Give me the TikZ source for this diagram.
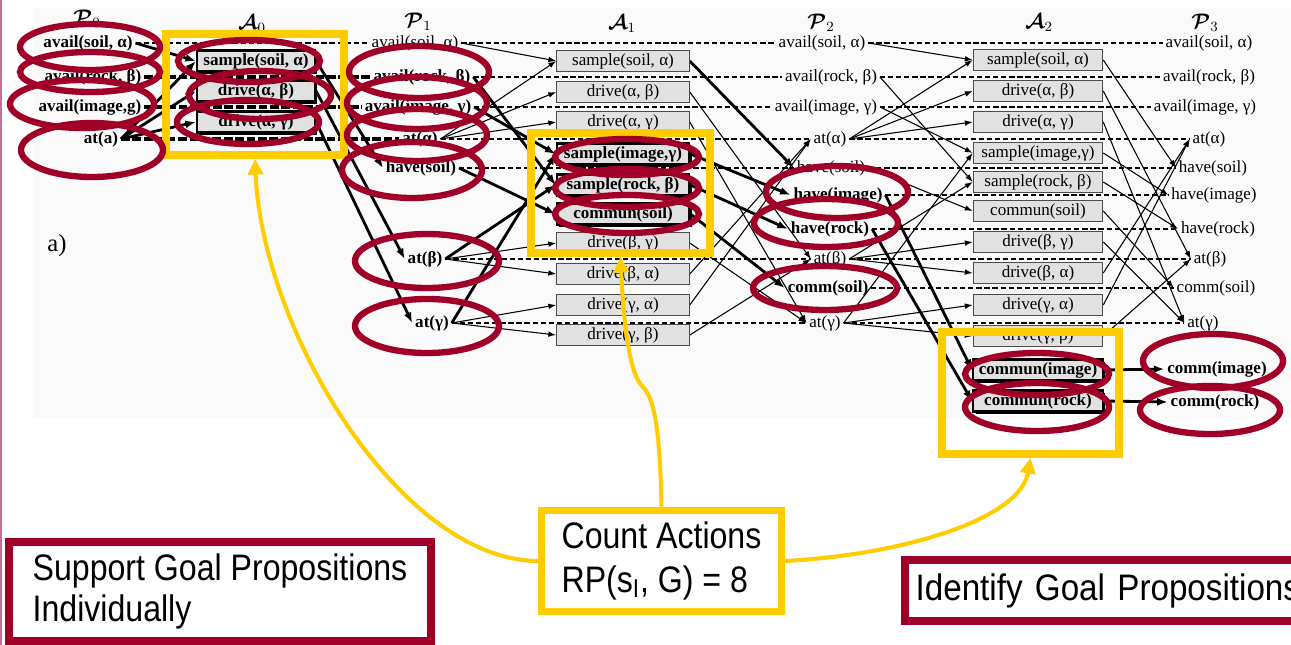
\documentclass[tikz,border=0pt]{standalone}
\usepackage{amsmath}
\usepackage{fontspec}
\setmainfont{Liberation Serif}
\newfontfamily\notefamily{Liberation Sans}[FakeStretch=0.87]
\newfontfamily\widenotefamily{Liberation Sans}[FakeStretch=0.9]
\usetikzlibrary{arrows.meta,shadows}
\definecolor{goalred}{RGB}{160,0,40}
\definecolor{markyellow}{RGB}{255,204,0}
\definecolor{boxgray}{RGB}{225,225,225}
\definecolor{sheet}{RGB}{250,250,250}
\definecolor{edgepink}{RGB}{200,110,150}
\newcommand\gsize{\fontsize{9.7}{11}\selectfont}
\newcommand\notesize{\notefamily\fontsize{21}{25}\selectfont}
\newcommand\widenotesize{\widenotefamily\fontsize{21}{25}\selectfont}
\pgfdeclarelayer{sheetlayer}
\pgfdeclarelayer{wirelayer}
\pgfsetlayers{sheetlayer,wirelayer,main}
\tikzset{
  prop/.style={font=\gsize, inner sep=1.5pt},
  bprop/.style={font=\gsize\bfseries, inner sep=1.5pt},
  levtitle/.style={font=\fontsize{12}{12}\selectfont, inner sep=0pt},
  act/.style={draw=black!70, fill=boxgray, line width=0.6pt, inner sep=0pt, minimum height=12pt, font=\gsize},
  bact/.style={act, draw=black, line width=1.4pt, font=\gsize\bfseries,
    drop shadow={shadow xshift=1.3pt, shadow yshift=-1.3pt, fill=black, opacity=1}},
  lev0/.style={minimum width=67pt},
  lev1/.style={minimum width=75.4pt},
  lev2/.style={minimum width=73.7pt},
  noop/.style={line width=0.6pt, dash pattern=on 3pt off 1.6pt},
  bnoop/.style={line width=1.9pt, dash pattern=on 5pt off 1.5pt},
  wire/.style={line width=0.6pt, -{Latex[length=4.5pt,width=3.2pt]}},
  bwire/.style={line width=1.6pt, -{Latex[length=6pt,width=4.5pt]}},
  ring/.style={draw=goalred, line width=3.6pt},
  hilite/.style={draw=markyellow, line width=4.5pt, inner sep=0pt},
  pointer/.style={draw=markyellow, line width=2.3pt, -{Triangle[length=9pt,width=8.5pt]}},
  notebox/.style={draw=goalred, line width=4.6pt, fill=white, font=\notesize, align=left},
  countbox/.style={draw=markyellow, line width=4.2pt, fill=white, font=\notesize, align=left},
}
\begin{document}
\begin{tikzpicture}[x=0.02cm,y=-0.02cm]
\useasboundingbox (0,0) rectangle (1291,645);
\clip (0,0) rectangle (1291,645);
\begin{pgfonlayer}{sheetlayer}
  \fill[white] (0,0) rectangle (1291,645);
  \fill[sheet] (33,8) rectangle (1291,418);
  \draw[edgepink, line width=1.2pt] (0.5,0) -- (0.5,645);
\end{pgfonlayer}

% level titles
\node[levtitle] (t0) at (87,19)   {$\boldsymbol{\mathcal P}_0$};
\node[levtitle] (t1) at (252,24)  {$\boldsymbol{\mathcal A}_0$};
\node[levtitle] (t2) at (418,22)  {$\boldsymbol{\mathcal P}_1$};
\node[levtitle] (t3) at (622,24)  {$\boldsymbol{\mathcal A}_1$};
\node[levtitle] (t4) at (821,23)  {$\boldsymbol{\mathcal P}_2$};
\node[levtitle] (t5) at (1039,23) {$\boldsymbol{\mathcal A}_2$};
\node[levtitle] (t6) at (1205,23) {$\boldsymbol{\mathcal P}_3$};
\node[font=\fontsize{14}{14}\selectfont] (lbl) at (57,246) {a)};

% proposition level 0
\node[bprop] (p0s) at (88,43)  {avail(soil, α)};
\node[bprop] (p0r) at (93,77)  {avail(rock, β)};
\node[bprop] (p0i) at (90,107) {avail(image,g)};
\node[bprop] (p0a) at (101,139) {at(a)};

% action level 0
\node[bact,lev0] (a0ss) at (256,61)  {sample(soil, α)};
\node[bact,lev0] (a0ab) at (256,91)  {drive(α, β)};
\node[bact,lev0] (a0ag) at (256,122) {drive(α, γ)};

% proposition level 1
\node[prop]  (p1s)  at (415,43)  {avail(soil, α)};
\node[bprop] (p1r)  at (422,77)  {avail(rock, β)};
\node[bprop] (p1i)  at (418,107) {avail(image, γ)};
\node[bprop] (p1a)  at (420,139) {at(α)};
\node[bprop] (p1hs) at (421,168) {have(soil)};
\node[bprop] (p1b)  at (425,259) {at(β)};
\node[bprop] (p1g)  at (432,323) {at(γ)};

% action level 1
\node[act,lev1]  (a1ss) at (623,61)  {sample(soil, α)};
\node[act,lev1]  (a1ab) at (623,92)  {drive(α, β)};
\node[act,lev1]  (a1ag) at (623,122) {drive(α, γ)};
\node[bact,lev1] (a1si) at (623,154) {sample(image,γ)};
\node[bact,lev1] (a1sr) at (623,185) {sample(rock, β)};
\node[bact,lev1] (a1cs) at (623,214) {commun(soil)};
\node[act,lev1]  (a1bg) at (623,243) {drive(β, γ)};
\node[act,lev1]  (a1ba) at (623,274) {drive(β, α)};
\node[act,lev1]  (a1ga) at (623,305) {drive(γ, α)};
\node[act,lev1]  (a1gb) at (623,335) {drive(γ, β)};

% proposition level 2
\node[prop]  (p2s)  at (822,43)  {avail(soil, α)};
\node[prop]  (p2r)  at (831,77)  {avail(rock, β)};
\node[prop]  (p2i)  at (826,107) {avail(image, γ)};
\node[prop]  (p2a)  at (830,139) {at(α)};
\node[prop]  (p2hs) at (831,168) {have(soil)};
\node[bprop] (p2hi) at (838,195) {have(image)};
\node[bprop] (p2hr) at (830,229) {have(rock)};
\node[prop]  (p2b)  at (830,259) {at(β)};
\node[bprop] (p2cs) at (828,288) {comm(soil)};
\node[prop]  (p2g)  at (825,323) {at(γ)};

% action level 2
\node[act,lev2]  (a2ss) at (1038,60)  {sample(soil, α)};
\node[act,lev2]  (a2ab) at (1038,91)  {drive(α, β)};
\node[act,lev2]  (a2ag) at (1038,122) {drive(α, γ)};
\node[act,lev2]  (a2si) at (1038,153) {sample(image,γ)};
\node[act,lev2]  (a2sr) at (1038,182) {sample(rock, β)};
\node[act,lev2]  (a2cs) at (1038,211) {commun(soil)};
\node[act,lev2]  (a2bg) at (1038,242) {drive(β, γ)};
\node[act,lev2]  (a2ba) at (1038,273) {drive(β, α)};
\node[act,lev2]  (a2ga) at (1038,305) {drive(γ, α)};
\node[act,lev2]  (a2gb) at (1038,336) {drive(γ, β)};
\node[bact,lev2] (a2ci) at (1038,370) {commun(image)};
\node[bact,lev2] (a2cr) at (1038,401) {commun(rock)};

% proposition level 3
\node[prop]  (p3s)  at (1209,43)  {avail(soil, α)};
\node[prop]  (p3r)  at (1209,77)  {avail(rock, β)};
\node[prop]  (p3i)  at (1205,107) {avail(image, γ)};
\node[prop]  (p3a)  at (1209,139) {at(α)};
\node[prop]  (p3hs) at (1213,168) {have(soil)};
\node[prop]  (p3hi) at (1214,195) {have(image)};
\node[prop]  (p3hr) at (1218,229) {have(rock)};
\node[prop]  (p3b)  at (1210,259) {at(β)};
\node[prop]  (p3cs) at (1216,288) {comm(soil)};
\node[prop]  (p3g)  at (1203,323) {at(γ)};
\node[bprop] (p3ci) at (1217,369) {comm(image)};
\node[bprop] (p3cr) at (1215,402) {comm(rock)};

\begin{pgfonlayer}{wirelayer}
  % persistence (no-op) links
  \foreach \u/\v in {p0s/p1s,
      p1s/p2s, p1r/p2r, p1i/p2i, p1a/p2a, p1hs/p2hs, p1b/p2b, p1g/p2g,
      p2s/p3s, p2r/p3r, p2i/p3i, p2a/p3a, p2hs/p3hs, p2hi/p3hi, p2hr/p3hr,
      p2b/p3b, p2cs/p3cs, p2g/p3g}
    \draw[noop] (\u.east) -- (\v.west);
  \foreach \u/\v in {p0r/p1r, p0i/p1i, p0a/p1a}
    \draw[bnoop] (\u.east) -- (\v.west);
  % preconditions and effects
  \foreach \u/\v in {p1s/a1ss, p1a/a1ss, p1a/a1ab, p1a/a1ag, p1b/a1bg, p1b/a1ba,
      p1g/a1ga, p1g/a1gb,
      a1ab/p2b, a1ag/p2g, a1bg/p2g, a1ba/p2a, a1ga/p2a, a1gb/p2b,
      p2s/a2ss, p2a/a2ss, p2a/a2ab, p2a/a2ag, p2i/a2si, p2g/a2si, p2r/a2sr,
      p2b/a2sr, p2hs/a2cs, p2b/a2bg, p2b/a2ba, p2g/a2ga, p2g/a2gb,
      a2ss/p3hs, a2ab/p3b, a2ag/p3g, a2si/p3hi, a2sr/p3hr, a2cs/p3cs,
      a2bg/p3g, a2ba/p3a, a2ga/p3a, a2gb/p3b}
    \draw[wire] (\u.east) -- (\v.west);
  % relaxed plan support
  \foreach \u/\v in {p0s/a0ss, p0a/a0ss, p0a/a0ab, p0a/a0ag,
      a0ss/p1hs, a0ab/p1b, a0ag/p1g,
      p1i/a1si, p1g/a1si, p1r/a1sr, p1b/a1sr, p1hs/a1cs,
      a1ss/p2hs, a1si/p2hi, a1sr/p2hr, a1cs/p2cs,
      p2hi/a2ci, p2hr/a2cr, a2ci/p3ci, a2cr/p3cr}
    \draw[bwire] (\u.east) -- (\v.west);
\end{pgfonlayer}

% highlighted action layers
\node[hilite, minimum width=100.9pt, minimum height=68.6pt] (hl1) at (255,94.5) {};
\node[hilite, minimum width=101.5pt, minimum height=68pt]   (hl2) at (620.5,193) {};
\node[hilite, minimum width=100.4pt, minimum height=69.2pt] (hl3) at (1030.5,393) {};

% goal rings
\draw[ring] (90,47)  ellipse [x radius=70, y radius=23];
\draw[ring] (90,72)  ellipse [x radius=70, y radius=20];
\draw[ring] (82,104) ellipse [x radius=72, y radius=24];
\draw[ring] (92,150) ellipse [x radius=71, y radius=27];
\draw[ring] (249,61)  ellipse [x radius=71, y radius=21];
\draw[ring] (260,95)  ellipse [x radius=71, y radius=24];
\draw[ring] (248,122) ellipse [x radius=71, y radius=22];
\draw[ring] (419,72)  ellipse [x radius=70, y radius=26];
\draw[ring] (417,103) ellipse [x radius=70, y radius=26];
\draw[ring] (417,135) ellipse [x radius=70, y radius=26];
\draw[ring] (412,170) ellipse [x radius=70, y radius=28];
\draw[ring] (427,261) ellipse [x radius=72, y radius=27];
\draw[ring] (427,326) ellipse [x radius=72, y radius=27];
\draw[ring] (627,157) ellipse [x radius=72, y radius=18];
\draw[ring] (627,188) ellipse [x radius=72, y radius=19];
\draw[ring] (627,214) ellipse [x radius=72, y radius=19];
\draw[ring] (837,192) ellipse [x radius=71, y radius=26];
\draw[ring] (826,223) ellipse [x radius=72, y radius=24];
\draw[ring] (825,288) ellipse [x radius=72, y radius=22];
\draw[ring] (1037,374) ellipse [x radius=72, y radius=21];
\draw[ring] (1037,407) ellipse [x radius=72, y radius=24];
\draw[ring] (1213,361) ellipse [x radius=70, y radius=27];
\draw[ring] (1210,410) ellipse [x radius=70, y radius=24];

% notes
\node[notebox, font=\notefamily\fontsize{21}{23}\selectfont,
      minimum width=240pt, minimum height=56pt] (sup) at (220,591.5)
  {Support Goal Propositions\\Individually};
\node[countbox, minimum width=136.6pt, minimum height=57.8pt] (cnt) at (661.5,561)
  {Count Actions\\RP(s\textsubscript{I}, G) = 8};
\node[notebox, font=\widenotesize,
      anchor=west, text width=260pt, inner xsep=6pt, minimum height=34.6pt]
  (idn) at (901,590.5) {Identify Goal Propositions};

\draw[pointer] (cnt.west) .. controls (400,560) and (262,330) .. (hl1.south);
\draw[pointer] (cnt.north) .. controls (660,440) and (656,400) .. (643,387)
  .. controls (630,375) and (624,330) .. (hl2.south);
\draw[pointer] (cnt.east) .. controls (900,555) and (1020,520) .. (hl3.south);
\end{tikzpicture}
\end{document}
